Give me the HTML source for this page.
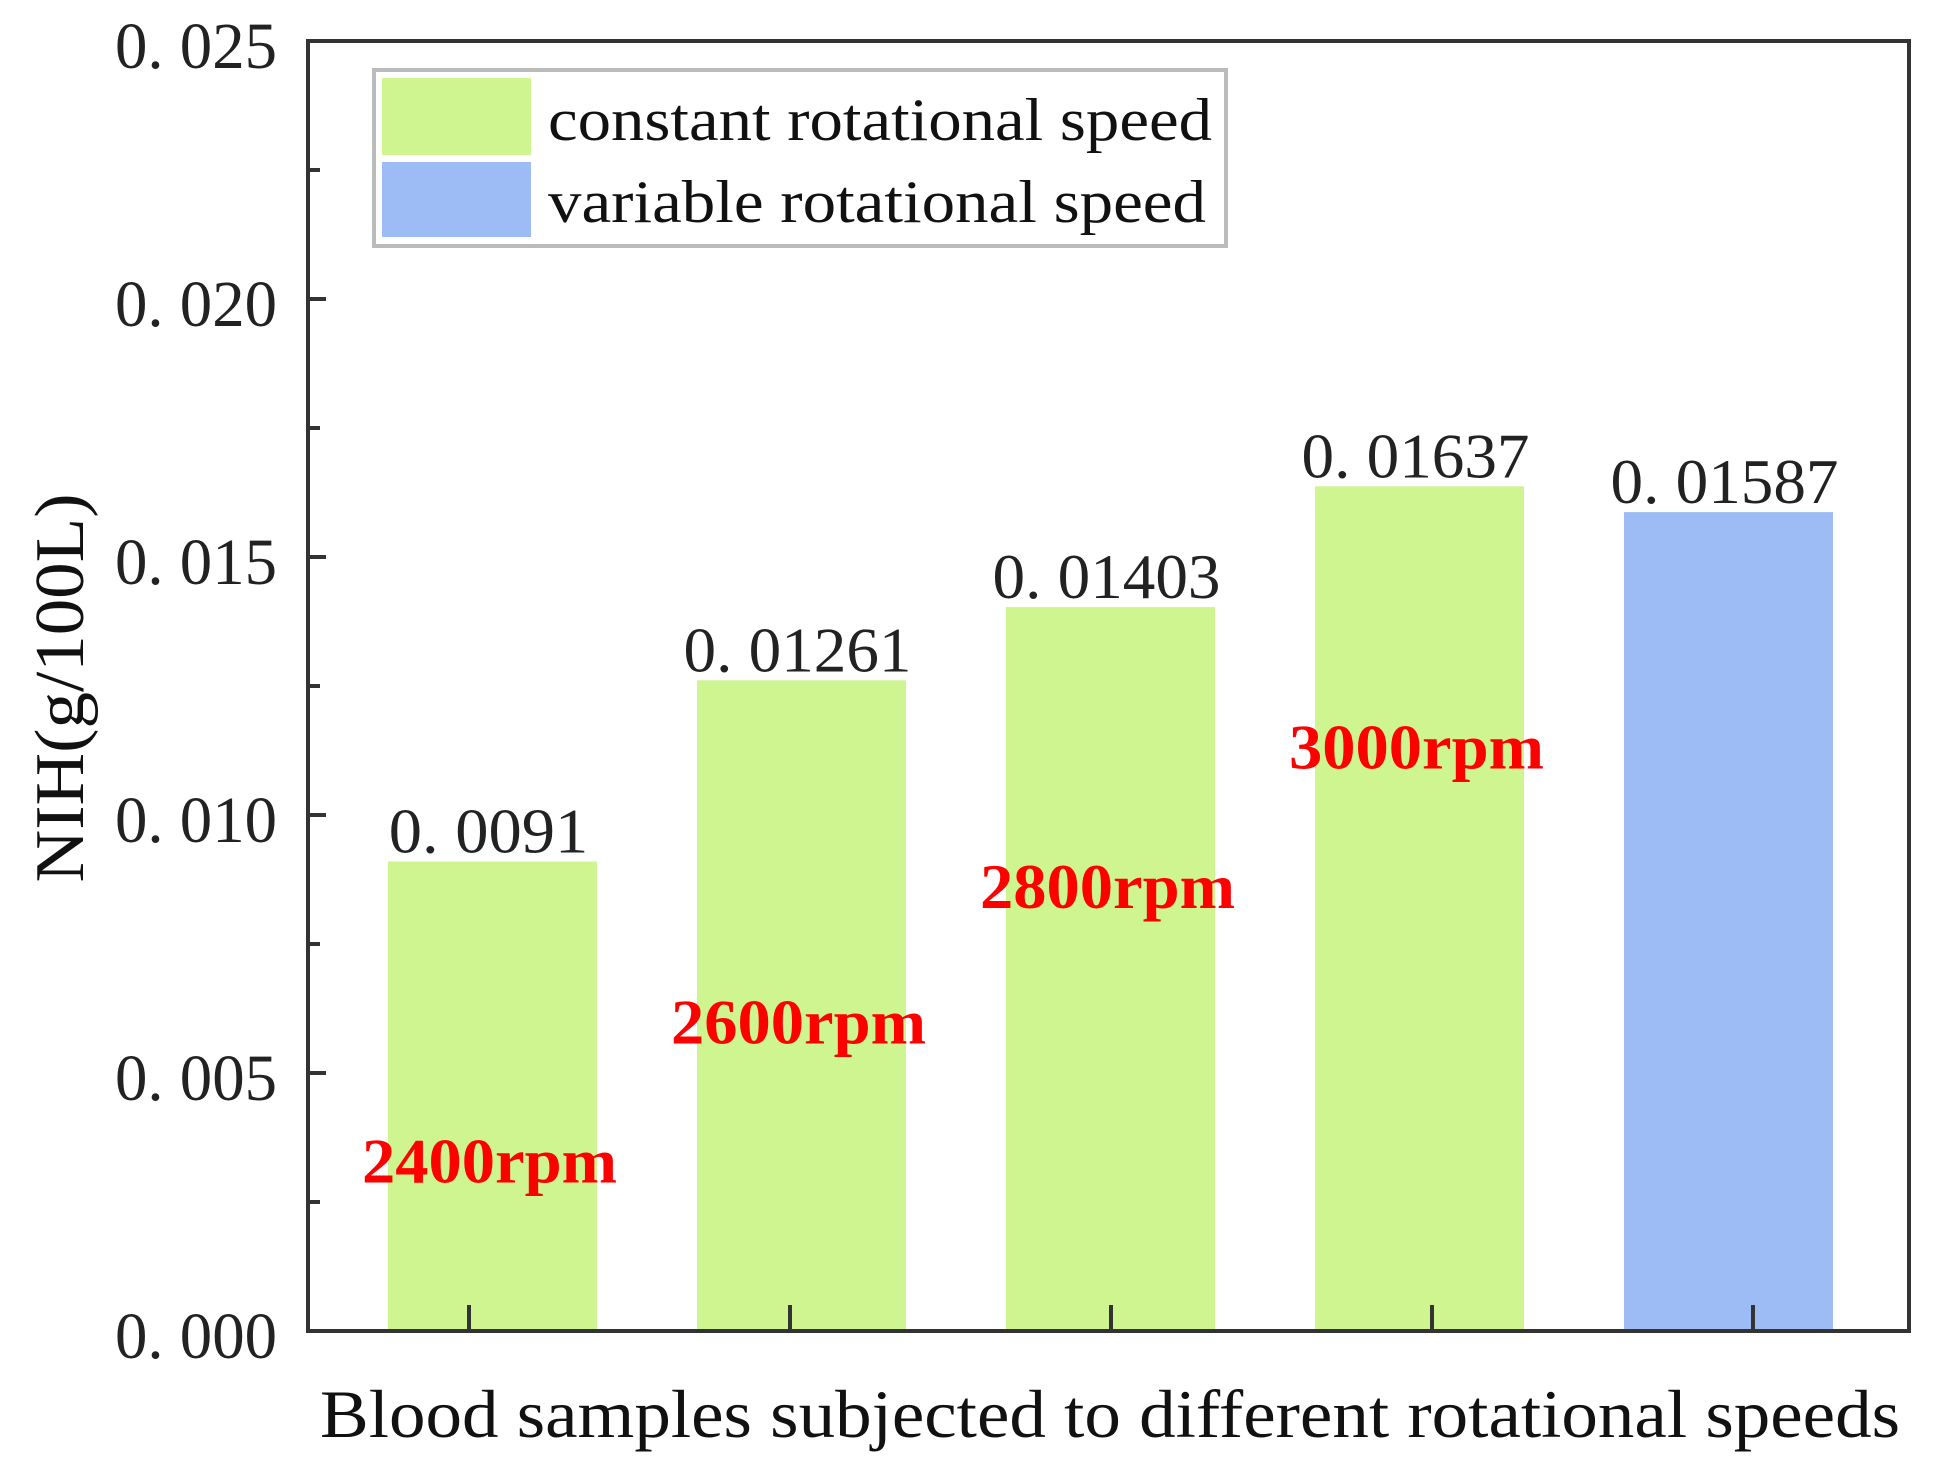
<!DOCTYPE html>
<html><head><meta charset="utf-8"><style>
html,body{margin:0;padding:0;background:#fff;}
svg{display:block;}
text{font-family:"Liberation Serif","DejaVu Serif",serif;}
</style></head>
<body>
<svg id="chart" width="1940" height="1476" viewBox="0 0 1940 1476" xmlns="http://www.w3.org/2000/svg">
<g id="bars"></g>
<g id="axes"></g>
<g id="legend">
  <rect x="374" y="70" width="852" height="176" fill="#fff" stroke="#bbb" stroke-width="4"/>
  <rect x="382" y="78" width="149" height="77" fill="#cff591"/>
  <text x="548" y="140" font-size="60" fill="#111" textLength="664" lengthAdjust="spacingAndGlyphs">constant rotational speed</text>
  <rect x="382" y="162" width="149" height="75" fill="#9dbcf5"/>
  <text x="548" y="222" font-size="60" fill="#111" textLength="658" lengthAdjust="spacingAndGlyphs">variable rotational speed</text>
</g>
<text x="320" y="1437" font-size="68" fill="#111" textLength="1580" lengthAdjust="spacingAndGlyphs">Blood samples subjected to different rotational speeds</text>
<text transform="translate(83,688) rotate(-90)" text-anchor="middle" font-size="70" fill="#111" textLength="389" lengthAdjust="spacingAndGlyphs">NIH(g/100L)</text>
</svg>
<script>
const categories = ["2400rpm", "2600rpm", "2800rpm", "3000rpm", "variable"];
const values = [0.0091, 0.01261, 0.01403, 0.01637, 0.01587];
const valueLabels = ["0. 0091", "0. 01261", "0. 01403", "0. 01637", "0. 01587"];
const speedLabels = ["2400rpm", "2600rpm", "2800rpm", "3000rpm", ""];
const speedLabelValues = [0.00288, 0.00557, 0.0082, 0.0109, 0];
const seriesType = ["constant", "constant", "constant", "constant", "variable"];
const yTicks = [0, 0.005, 0.010, 0.015, 0.020, 0.025];
const yTickLabels = ["0. 000", "0. 005", "0. 010", "0. 015", "0. 020", "0. 025"];

const NS = "http://www.w3.org/2000/svg";
const X0 = 308, X1 = 1909, Y0 = 1331, Y1 = 41, YMAX = 0.025;
const y = v => Y0 - v / YMAX * (Y0 - Y1);
const barX = i => 388 + i * 309;
const tickX = i => 469 + i * 321;
const BW = 209;
function mk(tag, attrs, parent){
  const e = document.createElementNS(NS, tag);
  for (const k in attrs) e.setAttribute(k, attrs[k]);
  parent.appendChild(e); return e;
}
const gb = document.getElementById("bars");
const ga = document.getElementById("axes");
categories.forEach((c, i) => {
  const r = mk("rect", {x: barX(i), y: y(values[i]), width: BW, height: Y0 - y(values[i]),
    fill: seriesType[i] === "constant" ? "#cff591" : "#9dbcf5"}, gb);
  
  
  const len = valueLabels[i].length * 28.5;
  const t = mk("text", {x: barX(i) + BW / 2 - 4, y: y(values[i]) - 9, "text-anchor": "middle",
    "font-size": 64, fill: "#222", textLength: len, lengthAdjust: "spacingAndGlyphs"}, gb);
  t.textContent = valueLabels[i];
  
  
  if (speedLabels[i]) {
    const s = mk("text", {x: barX(i) + BW / 2 - 3, y: y(speedLabelValues[i]), "text-anchor": "middle",
      "font-size": 64, "font-weight": "bold", fill: "#ff0000", textLength: 255, lengthAdjust: "spacingAndGlyphs"}, gb);
    s.textContent = speedLabels[i];
    
    
  }
});
const fr = mk("rect", {x: X0, y: Y1, width: X1 - X0, height: Y0 - Y1, fill: "none", stroke: "#333", "stroke-width": 4}, ga);


yTicks.forEach((v, i) => {
  const l = mk("line", {x1: X0, x2: X0 + 18, y1: y(v), y2: y(v), stroke: "#333", "stroke-width": 4}, ga);
  
  
  if (i < yTicks.length - 1) {
    const m = mk("line", {x1: X0, x2: X0 + 12, y1: y(v + 0.0025), y2: y(v + 0.0025), stroke: "#333", "stroke-width": 4}, ga);
    
    
  }
  const t = mk("text", {x: 277, y: y(v) + 27, "text-anchor": "end", "font-size": 66, fill: "#222",
    textLength: 162, lengthAdjust: "spacingAndGlyphs"}, ga);
  t.textContent = yTickLabels[i];
  
  
});
categories.forEach((c, i) => {
  const l = mk("line", {x1: tickX(i), x2: tickX(i), y1: Y0, y2: Y0 - 26, stroke: "#333", "stroke-width": 4}, ga);
  
  
});
</script>
</body></html>
